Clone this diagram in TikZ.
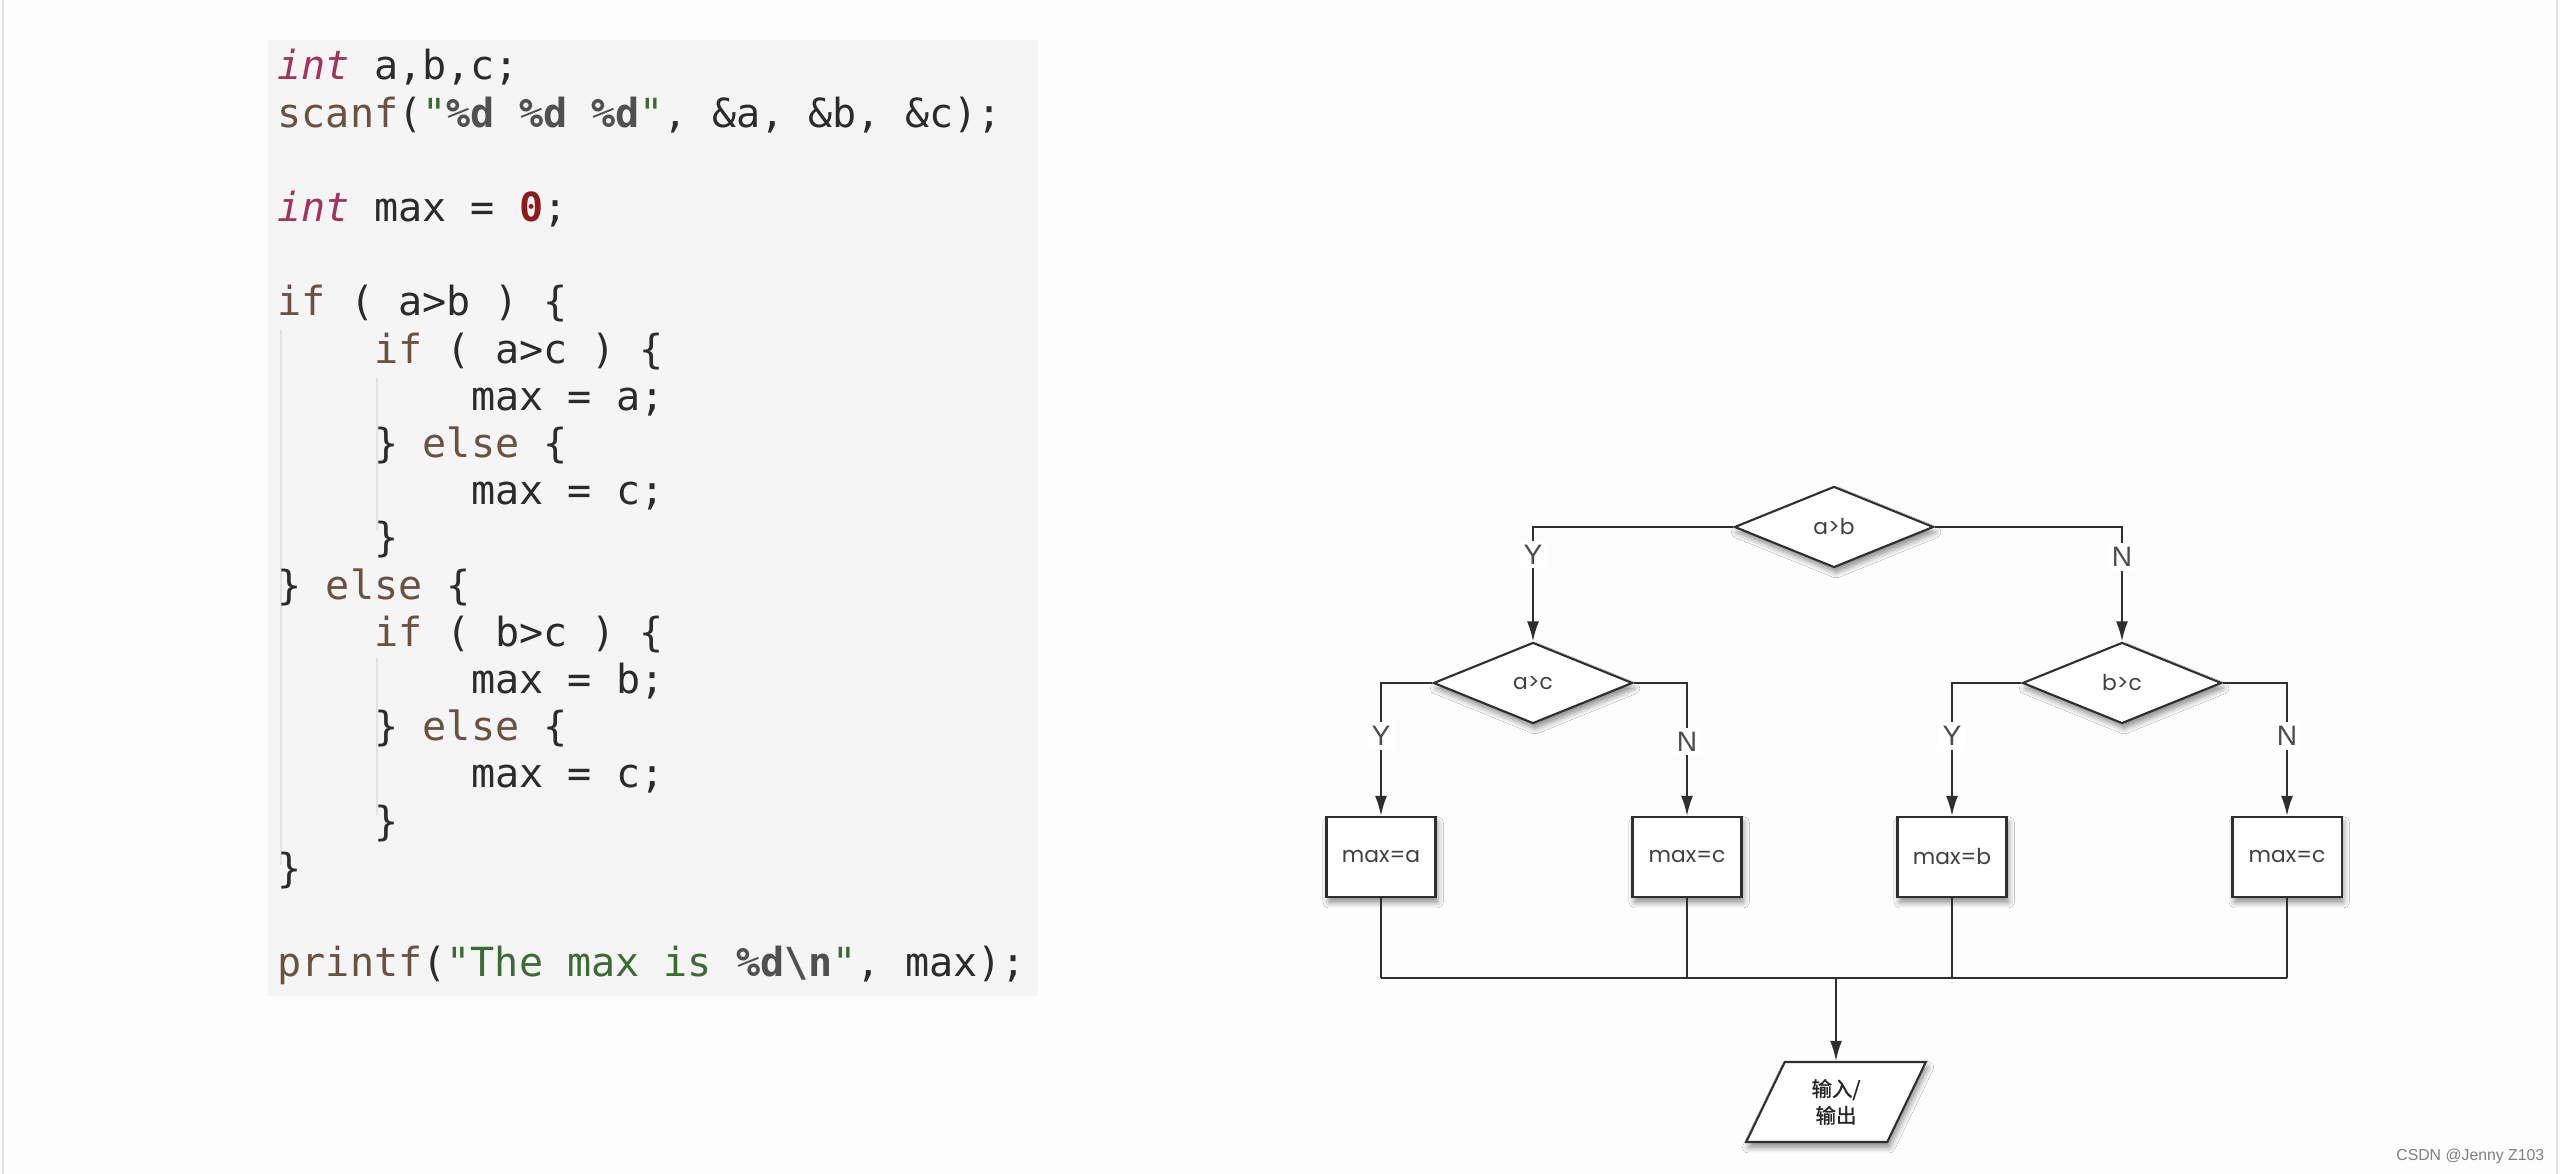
\documentclass[tikz,border=0pt]{standalone}
\usepackage{fontspec}
\usepackage{xcolor}
\usepackage{tikz}
\usetikzlibrary{positioning, shapes.geometric, arrows.meta, shadows.blur}
\setmonofont{DejaVu Sans Mono}
\newfontfamily\chartfont{Poppins}
\newfontfamily\labelfont{Liberation Sans}
\newfontfamily\cjk[FakeBold=1.2]{Noto Sans CJK SC}

\definecolor{pagebg}{HTML}{FDFDFD}
\definecolor{codebg}{HTML}{F5F5F5}
\definecolor{codetext}{HTML}{2B2B2B}
\definecolor{typecol}{HTML}{A3325E}
\definecolor{kwcol}{HTML}{6B5142}
\definecolor{strcol}{HTML}{3D6B35}
\definecolor{numcol}{HTML}{8C1C1C}
\definecolor{fmtcol}{HTML}{505050}
\definecolor{guide}{HTML}{E2E2E2}
\definecolor{flowline}{HTML}{2F2F2F}

\newcommand{\ctype}[1]{\textcolor{typecol}{\itshape #1}}
\newcommand{\ckw}[1]{\textcolor{kwcol}{#1}}
\newcommand{\cstr}[1]{\textcolor{strcol}{#1}}
\newcommand{\cnum}[1]{\textcolor{numcol}{\bfseries #1}}
\newcommand{\cfmt}[1]{\textcolor{fmtcol}{\bfseries #1}}

\tikzset{
  codeline/.style={anchor=base west, inner sep=0pt, text=codetext,
    font=\ttfamily\fontsize{11.4pt}{13pt}\selectfont},
  flow/.style={draw=flowline, line width=0.6pt},
  shade box/.style={blur shadow={shadow xshift=0.6pt, shadow yshift=-1.5pt,
    shadow blur radius=1.6pt, shadow blur steps=6, shadow opacity=45}},
  decision/.style={diamond, draw=flowline, line width=0.6pt, fill=white,
    minimum width=1.99cm, minimum height=0.81cm, inner sep=0pt, shade box,
    text=black!75, font=\chartfont\fontsize{6.2pt}{7pt}\selectfont},
  assign/.style={rectangle, draw=flowline, line width=0.6pt, fill=white,
    minimum width=1.09cm, minimum height=0.8cm, inner sep=0pt, shade box,
    text=black!75, font=\chartfont\fontsize{6.2pt}{7pt}\selectfont},
  inout/.style={trapezium, trapezium left angle=68, trapezium right angle=112,
    trapezium stretches=true, draw=flowline, line width=0.6pt, fill=white,
    minimum width=1.8cm, minimum height=0.8cm, inner sep=0pt, shade box,
    align=center, text=black!85, font=\cjk\fontsize{5.8pt}{7.6pt}\selectfont},
  branch/.style={fill=white, inner sep=1.2pt, text=black!70,
    font=\labelfont\fontsize{8pt}{9pt}\selectfont}
}

\begin{document}
\begin{tikzpicture}[x=0.01cm, y=-0.01cm, >={Latex[length=2mm, width=1.2mm]}]

\useasboundingbox (0,0) rectangle (2560,1174);
\fill[pagebg] (0,0) rectangle (2560,1174);
\draw[guide] (3,0) -- (3,1174);
\draw[guide] (2557,0) -- (2557,1174);

% Code panel
\fill[codebg] (268,40) rectangle (1038,996);
\draw[guide] (281,330) -- (281,865);
\draw[guide] (377,378) -- (377,530);
\draw[guide] (377,658) -- (377,815);

\foreach \l/\ind/\txt in {
  1/0/{\ctype{int} a,b,c;},
  2/0/{\ckw{scanf}(\cstr{"}\cfmt{\%d} \cfmt{\%d} \cfmt{\%d}\cstr{"}, \&a, \&b, \&c);},
  4/0/{\ctype{int} max = \cnum{0};},
  6/0/{\ckw{if} ( a>b ) \{},
  7/1/{\ckw{if} ( a>c ) \{},
  8/2/{max = a;},
  9/1/{\} \ckw{else} \{},
  10/2/{max = c;},
  11/1/{\}},
  12/0/{\} \ckw{else} \{},
  13/1/{\ckw{if} ( b>c ) \{},
  14/2/{max = b;},
  15/1/{\} \ckw{else} \{},
  16/2/{max = c;},
  17/1/{\}},
  18/0/{\}},
  20/0/{\ckw{printf}(\cstr{"The max is }\cfmt{\%d\textbackslash n}\cstr{"}, max);}}
{
  \node[codeline] (Line-\l) at ({277+\ind*96.8}, {80+(\l-1)*47.2}) {\txt};
}

% Decisions
\node[decision] (Cond-ab) at (1834,527) {a>b};
\node[decision] (Cond-ac) at (1533,683) {a>c};
\node[decision] (Cond-bc) at (2122,683) {b>c};

% Assignments
\foreach \i/\x/\v in {1/1381/a, 2/1687/c, 3/1952/b, 4/2287/c}
{
  \node[assign] (Box-\i) at (\x,857) {max=\v};
}

% Output
\node[inout] (InOut) at (1836,1102) {输入/\\输出};

% Connect decisions
\draw[flow, ->] (Cond-ab.west) -| node[branch, pos=0.62]{Y} (Cond-ac.north);
\draw[flow, ->] (Cond-ab.east) -| node[branch, pos=0.63]{N} (Cond-bc.north);
\draw[flow, ->] (Cond-ac.west) -| node[branch, pos=0.70]{Y} (Box-1.north);
\draw[flow, ->] (Cond-ac.east) -| node[branch, pos=0.72]{N} (Box-2.north);
\draw[flow, ->] (Cond-bc.west) -| node[branch, pos=0.70]{Y} (Box-3.north);
\draw[flow, ->] (Cond-bc.east) -| node[branch, pos=0.70]{N} (Box-4.north);

% Join to output
\coordinate (Join) at (InOut.north |- 0,978);
\foreach \i in {1,...,4}
{
  \draw[flow] (Box-\i.south) -- (Box-\i.south |- Join);
}
\draw[flow] (Box-1.south |- Join) -- (Box-4.south |- Join);
\draw[flow, ->] (Join) -- (InOut.north);

% Watermark
\node[anchor=base east, inner sep=0pt, text=black!50,
  font=\labelfont\fontsize{4.5pt}{6pt}\selectfont] (Mark) at (2545,1161) {CSDN @Jenny Z103};

\end{tikzpicture}
\end{document}
